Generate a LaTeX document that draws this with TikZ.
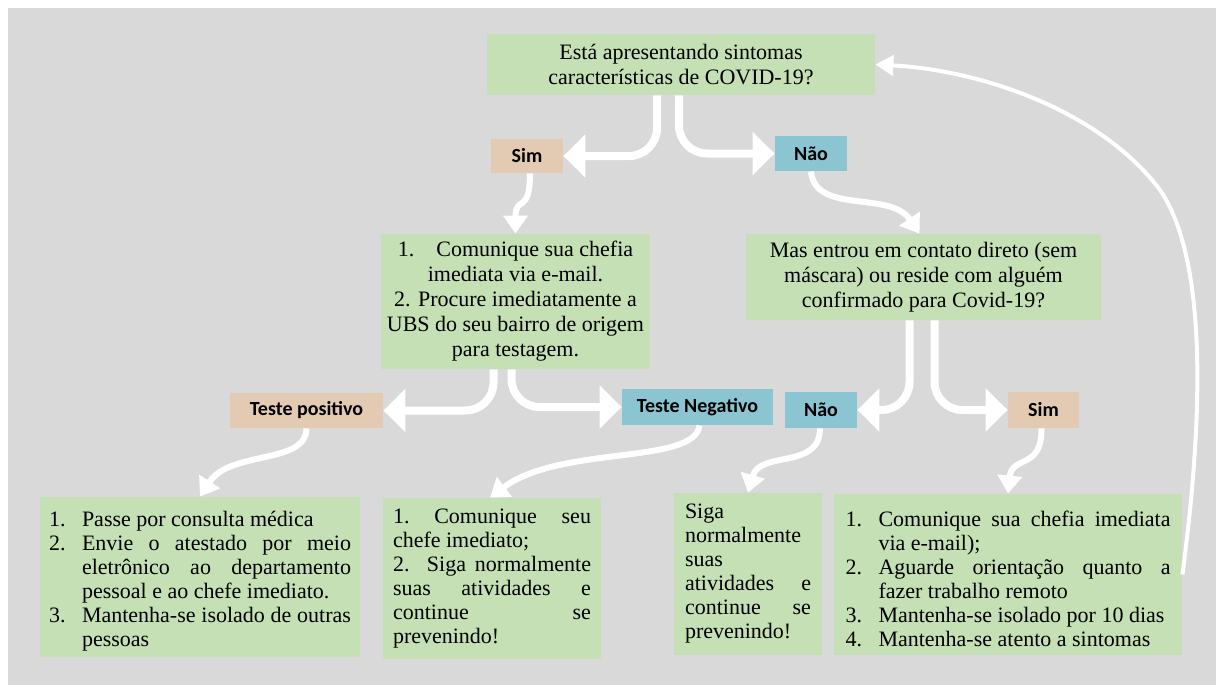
\documentclass[tikz,border=0pt]{standalone}
\usepackage{fontspec}
\setmainfont{Liberation Serif}
\newfontfamily\labelfont{Carlito}
\usetikzlibrary{arrows.meta}

\definecolor{boxgreen}{RGB}{197,224,180}
\definecolor{boxtan}{RGB}{226,203,178}
\definecolor{boxblue}{RGB}{139,197,210}
\definecolor{bggray}{RGB}{217,217,217}

\newcommand\numitem[1]{\par\noindent\hangindent=16.5pt\hangafter=1\makebox[16.5pt][l]{#1}}

\begin{document}
\begin{tikzpicture}[x=0.5pt,y=-0.5pt,
                    box/.style={fill=boxgreen,
                      inner sep=0pt,
                      font=\fontsize{11}{12.5}\selectfont,
                      align=center},
                    listbox/.style={fill=boxgreen,
                      inner sep=0pt,
                      font=\fontsize{11}{12}\selectfont,
                      align=justify},
                    sim/.style={fill=boxtan,
                      inner sep=0pt,
                      font=\labelfont\bfseries\fontsize{10}{12}\selectfont},
                    nao/.style={sim, fill=boxblue},
                    flow/.style={draw=white, line width=3pt,
                      -{Triangle[width=12pt,length=9pt]}},
                    split/.style={draw=white, line width=4pt,
                      rounded corners=14pt,
                      -{Triangle[width=21pt,length=11pt]}}]
\fill[white] (0,0) rectangle (1216,685);
\fill[bggray] (8,8) rectangle (1216,685);

\node[box, minimum width=194pt, minimum height=30.5pt] (q1) at (681,64.5)
  {Está apresentando sintomas\\características de COVID-19?};
\node[sim, minimum width=36pt, minimum height=17pt] (sim1) at (527,156) {Sim};
\node[nao, minimum width=36pt, minimum height=17.5pt] (nao1) at (811,153.5) {Não};
\node[box, minimum width=134.5pt, minimum height=67.5pt] (a1) at (515.5,301.5)
  {1.\hspace{1em}Comunique sua chefia\\imediata via e-mail.\\2. Procure imediatamente a\\UBS do seu bairro de origem\\para testagem.};
\node[box, minimum width=177.5pt, minimum height=43pt] (q2) at (923.5,277)
  {Mas entrou em contato direto (sem\\máscara) ou reside com alguém\\confirmado para Covid-19?};
\node[sim, minimum width=76.5pt, minimum height=17.5pt] (tpos) at (306.5,410.5) {Teste positivo};
\node[nao, minimum width=75.5pt, minimum height=18pt] (tneg) at (697.5,407) {Teste Negativo};
\node[nao, minimum width=36pt, minimum height=18pt] (nao2) at (821,410) {Não};
\node[sim, minimum width=35.5pt, minimum height=18pt] (sim2) at (1043.5,410) {Sim};

\node[listbox, text width=151pt, minimum width=160pt, minimum height=80pt] (r1) at (200,577)
  {\numitem{1.}Passe por consulta médica\numitem{2.}Envie o atestado por meio\linebreak eletrônico ao departamento\linebreak pessoal e ao chefe imediato.\numitem{3.}Mantenha-se isolado de outras\linebreak pessoas\par};
\node[listbox, text width=99pt, minimum width=109pt, minimum height=80.5pt] (r2) at (492,578.5)
  {1.\ Comunique seu\linebreak chefe imediato;\par 2. Siga normalmente\linebreak suas atividades e\linebreak continue se\linebreak prevenindo!};
\node[listbox, text width=63pt, minimum width=74pt, minimum height=81pt] (r3) at (748,574)
  {Siga\linebreak normalmente\linebreak suas\linebreak atividades e\linebreak continue se\linebreak prevenindo!};
\node[listbox, text width=162.5pt, minimum width=174pt, minimum height=80.5pt] (r4) at (1008,574.5)
  {\numitem{1.}Comunique sua chefia imediata\linebreak via e-mail);\numitem{2.}Aguarde orientação quanto a\linebreak fazer trabalho remoto\numitem{3.}Mantenha-se isolado por 10 dias\numitem{4.}Mantenha-se atento a sintomas\par};

% forks
\draw[split] ([xshift=-12pt]q1.south) |- (sim1.east);
\draw[split] ([xshift=-1pt]q1.south) |- (nao1.west);
\draw[split] ([xshift=-11pt]a1.south) |- (tpos.east);
\draw[split] ([xshift=-2pt]a1.south) |- (tneg.west);
\draw[split] ([xshift=-7pt]q2.south) |- (nao2.east);
\draw[split] ([xshift=5.5pt]q2.south) |- (sim2.west);

% bends
\draw[flow] ([xshift=1.5pt]sim1.south) .. controls +(0,42) and +(0,-39) .. (a1.north);
\draw[flow] (nao1.south) .. controls (815,215) and (890,190) .. ([xshift=-2pt]q2.north);
\draw[flow] (tpos.south) .. controls (306,465) and (230,450) .. (r1.north);
\draw[flow] ([xshift=1pt]tneg.south) .. controls (695,465) and (560,445) .. ([xshift=-1pt]r2.north);
\draw[flow] ([xshift=-0.5pt]nao2.south) .. controls (820,470) and (760,450) .. (r3.north);
\draw[flow] ([xshift=-1pt]sim2.south) .. controls (1042,470) and (1012,455) .. (r4.north);

% back to the start
\draw[draw=white, line width=2pt, -{Triangle[width=10pt,length=9pt]}]
  (r4.east) .. controls (1203,420) and (1208,260) .. (1160,190)
  .. controls (1100,110) and (980,70) .. (q1.east);
\end{tikzpicture}
\end{document}
